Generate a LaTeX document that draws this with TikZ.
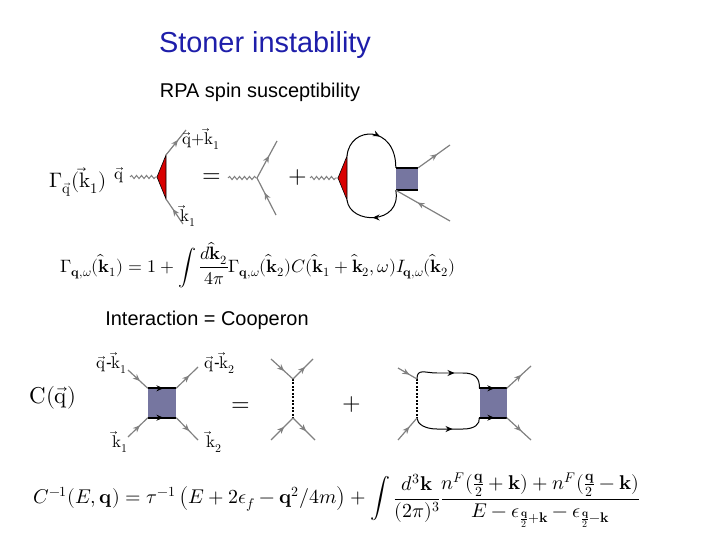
\documentclass[tikz,border=0pt]{standalone}
\usepackage{amsmath}
\usepackage{fontspec}
\setmainfont{Liberation Sans}
\usepackage{unicode-math}
\setmathfont{Latin Modern Math}
\usetikzlibrary{positioning, arrows.meta, decorations.pathmorphing, decorations.markings}
\definecolor{boxblue}{RGB}{118,118,160}
\definecolor{titleblue}{RGB}{30,30,170}
\newcommand{\vq}{\vec{\symup{q}}}
\newcommand{\vk}{\vec{\symup{k}}}
\begin{document}
\begin{tikzpicture}[x=1bp, y=-1bp,
        leg/.style={draw=gray, line width=1.2pt, postaction={decorate},
          decoration={markings, mark=at position 0.6 with {\arrow[gray]{Stealth[length=7pt, width=6pt]}}}},
        prop/.style={draw=black, line width=1pt, postaction={decorate},
          decoration={markings, mark=at position 0.55 with {\arrow{Stealth[length=7pt, width=6pt]}}}},
        wave/.style={draw=gray, line width=1pt, decorate,
          decoration={snake, amplitude=1.6pt, segment length=5pt}},
        vert/.style={draw, fill=red!85!black, line width=0.6pt},
        coop/.style={draw=none, fill=boxblue},
        bar/.style={prop, line width=2pt},
        lbl/.style={font=\fontsize{17}{20}\selectfont, inner sep=1pt},
        big/.style={font=\fontsize{24}{28}\selectfont},
        >=Stealth]
    \useasboundingbox (0,0) rectangle (720,540);

    % Titel
    \node (title) [text=titleblue, font=\fontsize{29}{34}\selectfont] at (265,45) {Stoner instability};
    \node (rpa) [font=\fontsize{20}{24}\selectfont] at (260,92) {RPA spin susceptibility};
    \node (inter) [font=\fontsize{20}{24}\selectfont] at (207,320) {Interaction = Cooperon};

    % Vertex-Gleichung
    \node (gam) [font=\fontsize{21}{24}\selectfont] at (78,182) {$\Gamma_{\vq}(\vk_1)$};
    \node (qlab) [lbl] at (119,175) {$\vq$};
    \coordinate (w1) at (130,177);
    \coordinate (t1a) at (157,177);
    \coordinate (t1b) at (166,155);
    \coordinate (t1c) at (166,199);
    \coordinate (o1) at (186,130);
    \coordinate (i1) at (183,224);
    \draw[wave] (w1) -- (t1a);
    \draw[vert] (t1a) -- (t1b) -- (t1c) -- cycle;
    \draw[leg] (t1b) -- (o1);
    \draw[leg] (i1) -- (t1c);
    \node (qk1) [lbl] at (201,139) {$\vq{+}\vk_1$};
    \node (k1a) [lbl] at (188,216) {$\vk_1$};
    \node (eq1) [big] at (212,178) {$=$};
    \coordinate (w2) at (228,178);
    \coordinate (v2) at (257,178);
    \coordinate (o2) at (277,141);
    \coordinate (i2) at (276,215);
    \draw[wave] (w2) -- (v2);
    \draw[leg] (v2) -- (o2);
    \draw[leg] (i2) -- (v2);
    \node (plus1) [big] at (298,178) {$+$};
    \coordinate (w3) at (310,178);
    \coordinate (t3a) at (338,178);
    \coordinate (t3b) at (347,156);
    \coordinate (t3c) at (347,200);
    \draw[wave] (w3) -- (t3a);
    \node (box1) [coop, minimum width=22bp, minimum height=22bp, inner sep=0pt] at (407,179) {};
    \draw[prop] (t3b) .. controls (350,125) and (396,125) .. (box1.north west);
    \draw[prop] (box1.south west) .. controls (402,225) and (350,225) .. (t3c);
    \draw[vert] (t3a) -- (t3b) -- (t3c) -- cycle;
    \draw[line width=2pt] (box1.north west) -- (box1.north east);
    \draw[line width=2pt] (box1.south west) -- (box1.south east);
    \coordinate (o3) at (450,145);
    \coordinate (i3) at (450,221);
    \draw[leg] (box1.north east) -- (o3);
    \draw[leg] (i3) -- (box1.south west);

    \node (eqA) [font=\fontsize{18}{21}\selectfont] at (258,265)
      {$\Gamma_{\symbf{q},\omega}(\hat{\symbf{k}}_1)=1+\displaystyle\int\frac{d\hat{\symbf{k}}_2}{4\pi}\Gamma_{\symbf{q},\omega}(\hat{\symbf{k}}_2)C(\hat{\symbf{k}}_1+\hat{\symbf{k}}_2,\omega)I_{\symbf{q},\omega}(\hat{\symbf{k}}_2)$};

    % Cooperon-Gleichung
    \node (cq) [font=\fontsize{23}{26}\selectfont] at (53,398) {$\symup{C}(\vq)$};
    \node (box2) [coop, minimum width=28bp, minimum height=29bp, inner sep=0pt] at (162,403) {};
    \draw[bar] (box2.north west) -- (box2.north east);
    \draw[bar] (box2.south west) -- (box2.south east);
    \coordinate (a1) at (128,370);
    \coordinate (a2) at (198,367);
    \coordinate (a3) at (128,437);
    \coordinate (a4) at (198,440);
    \draw[leg] (a1) -- (box2.north west);
    \draw[leg] (box2.north east) -- (a2);
    \draw[leg] (a3) -- (box2.south west);
    \draw[leg] (box2.south east) -- (a4);
    \node (qk1b) [lbl] at (112,363) {$\vq$-$\vk_1$};
    \node (qk2) [lbl] at (220,363) {$\vq$-$\vk_2$};
    \node (k1b) [lbl] at (120,442) {$\vk_1$};
    \node (k2) [lbl] at (214,442) {$\vk_2$};
    \node (eq2) [big] at (241,407) {$=$};

    \coordinate (d1) at (293,379);
    \coordinate (d2) at (293,418);
    \draw[line width=1.3pt, dash pattern=on 2pt off 1.5pt] (d1) -- (d2);
    \coordinate (b1) at (271,359);
    \coordinate (b2) at (313,359);
    \coordinate (b3) at (271,440);
    \coordinate (b4) at (315,440);
    \draw[leg] (b1) -- (d1);
    \draw[leg] (d1) -- (b2);
    \draw[leg] (b3) -- (d2);
    \draw[leg] (d2) -- (b4);
    \node (plus2) [big] at (352,405) {$+$};

    \coordinate (e1) at (417,379);
    \coordinate (e2) at (417,418);
    \node (box3) [coop, minimum width=27bp, minimum height=29bp, inner sep=0pt] at (493,403) {};
    \draw[line width=1.3pt, dash pattern=on 2pt off 1.5pt] (e1) -- (e2);
    \draw[prop] (e1) .. controls (417,368) and (425,373) .. (437,373) -- (463,373) .. controls (475,373) and (480,378) .. (box3.north west);
    \draw[prop] (e2) .. controls (417,424) and (425,429) .. (437,429) -- (463,429) .. controls (475,429) and (480,424) .. (box3.south west);
    \draw[bar] (box3.north west) -- (box3.north east);
    \draw[bar] (box3.south west) -- (box3.south east);
    \coordinate (c1) at (398,368);
    \coordinate (c2) at (531,366);
    \coordinate (c3) at (398,440);
    \coordinate (c4) at (531,440);
    \draw[leg] (c1) -- (e1);
    \draw[leg] (box3.north east) -- (c2);
    \draw[leg] (c3) -- (e2);
    \draw[leg] (box3.south east) -- (c4);

    \node (eqB) [font=\fontsize{20}{23}\selectfont] at (337,500)
      {$C^{-1}(E,\symbf{q})=\tau^{-1}\left(E+2\epsilon_f-\symbf{q}^2/4m\right)+\displaystyle\int\frac{d^3\symbf{k}}{(2\pi)^3}\frac{n^F(\frac{\symbf{q}}{2}+\symbf{k})+n^F(\frac{\symbf{q}}{2}-\symbf{k})}{E-\epsilon_{\frac{\symbf{q}}{2}+\symbf{k}}-\epsilon_{\frac{\symbf{q}}{2}-\symbf{k}}}$};
\end{tikzpicture}
\end{document}
